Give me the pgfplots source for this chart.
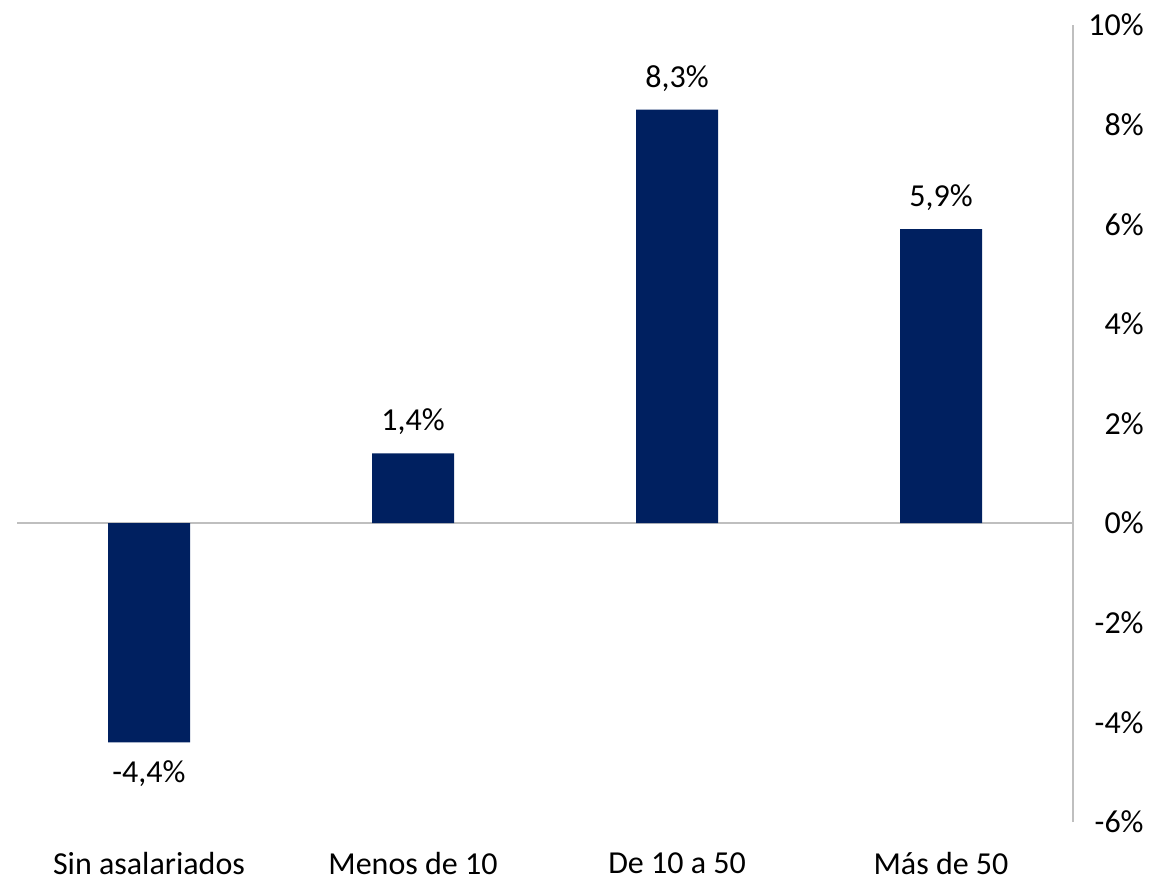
\documentclass[border=0pt]{standalone}
\usepackage{fontspec}
\setmainfont{Carlito}
\usepackage{pgfplots}
\pgfplotsset{compat=1.18}
\usetikzlibrary{calc}
\definecolor{navy}{HTML}{002060}
\definecolor{axgray}{HTML}{BFBFBF}
\begin{document}
\begin{tikzpicture}
\begin{axis}[
  scale only axis,
  width=528bp, height=398.5bp,
  xmin=-0.5, xmax=3.5,
  ymin=-6, ymax=10,
  ytick={-6,-4,...,10},
  xtick={0,1,2,3},
  xticklabels={Sin asalariados, Menos de 10, De 10 a 50, Más de 50},
  axis y line*=right,
  axis x line*=bottom,
  x axis line style={draw=none},
  y axis line style={axgray, line width=0.8bp},
  major tick length=0pt,
  font=\fontsize{16bp}{19bp}\selectfont,
  /pgf/number format/assume math mode=true,
  yticklabel={\pgfmathprintnumber{\tick}\%},
  yticklabel style={anchor=east, inner sep=0pt, xshift=35.5bp},
  xticklabel style={inner sep=0pt, yshift=-15bp},
  extra y ticks={0},
  extra y tick labels={},
  extra y tick style={grid=major, major grid style={axgray, line width=0.8bp}},
  ybar, bar width=41bp,
  nodes near coords={\pgfmathprintnumber[fixed, fixed zerofill, precision=1, use comma]{\pgfplotspointmeta}\%},
  every node near coord/.append style={font=\fontsize{16bp}{19bp}\selectfont, inner xsep=0pt, inner ysep=9bp},
  clip=false,
]
\addplot[fill=navy, draw=none] coordinates {(0,-4.4) (1,1.4) (2,8.3) (3,5.9)};
\end{axis}
\pgfresetboundingbox
\path[use as bounding box] ($(current axis.south west)+(-8.5bp,-29bp)$) rectangle ($(current axis.north east)+(43.5bp,12.5bp)$);
\end{tikzpicture}
\end{document}
